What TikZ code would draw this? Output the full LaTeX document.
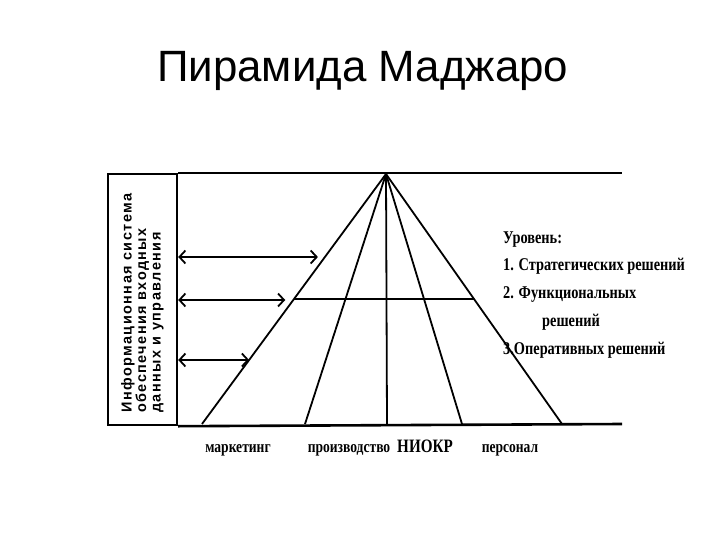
\documentclass[tikz,border=0pt]{standalone}
\usepackage{fontspec}
\setmainfont{Liberation Serif}
\newfontfamily\titlefont{Liberation Sans}
\newfontfamily\boxfont[LetterSpace=10]{Liberation Sans Bold}
\newfontfamily\condfont[FakeStretch=0.8]{Liberation Serif Bold}
\usetikzlibrary{positioning,calc,arrows.meta}
\tikzset{
	frame line/.style={line width=2.6bp},
	pyr line/.style={line width=1.8bp},
	link/.style={{Straight Barb[length=6bp,width=13bp]}-{Straight Barb[length=6bp,width=13bp]},line width=1.8bp},
	heading/.style={font=\titlefont\fontsize{44}{50}\selectfont,anchor=base west,inner sep=0pt},
	info box/.style={draw,line width=2.2bp,minimum width=69bp,minimum height=251bp,anchor=north west,inner sep=0pt},
	info text/.style={font=\boxfont\fontsize{14.5}{14.5}\selectfont,rotate=90,align=left,anchor=north west,inner sep=0pt},
	level text/.style={font=\condfont\fontsize{18}{20}\selectfont,anchor=base west,inner sep=0pt},
	area/.style={font=\condfont\fontsize{17}{18}\selectfont,anchor=base,inner sep=0pt}
}

\begin{document}
\begin{tikzpicture}[x=1bp,y=-1bp]
	\useasboundingbox (0,0) rectangle (720,540);
	
	\node[heading] (title) at (157,82) {Пирамида Маджаро};
	
	% left box
	\node[info box] (info) at (107,173) {};
	\node[info text] (infotext) at (121,413) {Информационная система\\обеспечения входных\\данных и управления};
	
	% levels
	\coordinate (top end) at (622,173);
	\coordinate (base end) at (622,424);
	\draw[frame line] (info.north east) -- (top end);
	\draw[frame line] (info.south east) -- (base end);
	
	% pyramid
	\coordinate (apex) at (386,174);
	\coordinate (foot1) at (202,424);
	\coordinate (foot2) at (305,424);
	\coordinate (foot3) at (387,424);
	\coordinate (foot4) at (462,424);
	\coordinate (foot5) at (562,424);
	\foreach \f in {1,...,5}
		\draw[pyr line] (apex) -- (foot\f);
	\draw[pyr line] ($(apex)!0.5!(foot1)$) -- ($(apex)!0.5!(foot5)$);
	
	% arrows to the box
	\foreach \t/\gap in {0.332/7,0.504/8,0.744/0}{
		\coordinate (tip) at ($(apex)!\t!(foot1)$);
		\draw[link,shorten >=\gap bp] (tip -| info.east) -- (tip);
	}
	
	% level names
	\node[level text] (lvl0) at (503,244) {Уровень:};
	\node[level text] (lvl1) at (503,271) {1. Стратегических решений};
	\node[level text] (lvl2) at (503,298) {2. Функциональных};
	\node[level text] (lvl2b) at (542,326) {решений};
	\node[level text] (lvl3) at (503,354) {3.Оперативных решений};
	
	\node[area] (marketing) at (238,452) {маркетинг};
	\node[area] (production) at (349,452) {производство};
	\node[area,font=\condfont\fontsize{19}{20}\selectfont] (rnd) at (425,452) {НИОКР};
	\node[area] (staff) at (510,452) {персонал};
\end{tikzpicture}
\end{document}
